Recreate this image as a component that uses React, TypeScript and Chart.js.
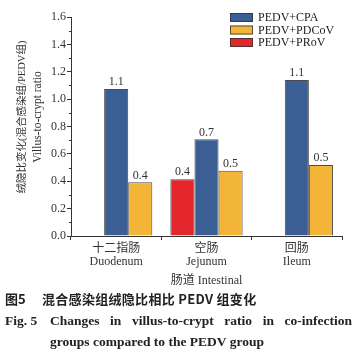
import React, { useEffect, useRef } from "react";
import { Chart, registerables } from "chart.js";

Chart.register(...registerables);

const categories: string[][] = [
  ["十二指肠", "Duodenum"],
  ["空肠", "Jejunum"],
  ["回肠", "Ileum"],
];
const seriesNames = ["PEDV+PRoV", "PEDV+CPA", "PEDV+PDCoV"];
const prov: (number | null)[] = [null, 0.414, null];
const cpa: number[] = [1.074, 0.706, 1.14];
const pdcov: number[] = [0.392, 0.477, 0.519];
const legendOrder = [1, 2, 0];
const yTicks = [0, 0.2, 0.4, 0.6, 0.8, 1.0, 1.2, 1.4, 1.6];
const yTitleZh = "绒隐比变化(混合感染组/PEDV组)";
const yTitleEn = "Villus-to-crypt ratio";
const xTitle = "肠道 Intestinal";

const SERIF = "'Liberation Serif', 'Noto Sans CJK SC', serif";
const COLORS = ["#e3262b", "#3b5f95", "#f2b537"];

const overlayPlugin = {
  id: "overlay",
  afterDraw(chart: any) {
    const ctx = chart.ctx;
    const area = chart.chartArea;
    const ys = chart.scales.y;
    ctx.save();
    // minor ticks
    ctx.strokeStyle = "#333";
    ctx.lineWidth = 1;
    for (let i = 0; i < yTicks.length - 1; i++) {
      const v = (yTicks[i] + yTicks[i + 1]) / 2;
      const y = Math.round(ys.getPixelForValue(v)) + 0.5;
      ctx.beginPath();
      ctx.moveTo(area.left - 2, y);
      ctx.lineTo(area.left, y);
      ctx.stroke();
    }
    // value labels
    ctx.fillStyle = "#333";
    ctx.font = `12px ${SERIF}`;
    ctx.textAlign = "center";
    ctx.textBaseline = "bottom";
    chart.data.datasets.forEach((ds: any, di: number) => {
      const meta = chart.getDatasetMeta(di);
      meta.data.forEach((el: any, i: number) => {
        const v = ds.data[i];
        if (v === null || v === undefined) return;
        ctx.fillText(v.toFixed(1), el.x, el.y - 1);
      });
    });
    // y title
    ctx.textAlign = "center";
    ctx.textBaseline = "middle";
    ctx.translate(22, 117);
    ctx.rotate(-Math.PI / 2);
    ctx.font = `10.5px ${SERIF}`;
    ctx.fillText(yTitleZh, 0, 0);
    ctx.setTransform(1, 0, 0, 1, 0, 0);
    ctx.translate(38, 117);
    ctx.rotate(-Math.PI / 2);
    ctx.font = `11.5px ${SERIF}`;
    ctx.fillText(yTitleEn, 0, 0);
    ctx.setTransform(1, 0, 0, 1, 0, 0);
    // legend
    ctx.font = `12px ${SERIF}`;
    ctx.textAlign = "left";
    ctx.textBaseline = "middle";
    legendOrder.forEach((di, k) => {
      const ds = chart.data.datasets[di];
      const top = 13 + k * 12.5;
      ctx.fillStyle = ds.backgroundColor;
      ctx.fillRect(230, top, 23, 9);
      ctx.strokeStyle = "rgba(50,50,50,0.8)";
      ctx.strokeRect(230.5, top + 0.5, 22, 8);
      ctx.fillStyle = "#222";
      ctx.fillText(ds.label, 258, top + 5);
    });
    ctx.restore();
  },
};

function ChartView() {
  const ref = useRef<HTMLCanvasElement | null>(null);
  useEffect(() => {
    if (!ref.current) return;
    const datasets = [prov, cpa, pdcov].map((d, i) => ({
      label: seriesNames[i],
      data: d,
      backgroundColor: COLORS[i],
      borderColor: "rgba(45,45,45,0.85)",
      borderWidth: 1,
      categoryPercentage: 0.8,
      barPercentage: 1.0,
      skipNull: false,
    }));
    const chart = new Chart(ref.current, {
      type: "bar",
      data: { labels: categories, datasets },
      plugins: [overlayPlugin],
      options: {
        responsive: false,
        animation: false,
        devicePixelRatio: 1,
        layout: { padding: { left: 0, right: 15, top: 17, bottom: 0 } },
        plugins: { legend: { display: false }, tooltip: { enabled: false } },
        scales: {
          x: {
            type: "category",
            offset: true,
            afterFit: (s: any) => {
              s.height = 54;
            },
            grid: {
              drawOnChartArea: false,
              drawTicks: true,
              tickLength: 4,
              color: "#333",
            },
            border: { display: true, color: "#333", width: 1 },
            ticks: {
              color: "#333",
              padding: 2,
              maxRotation: 0,
              font: { family: SERIF, size: 12, lineHeight: 1.1 },
            },
            title: {
              display: true,
              text: xTitle,
              color: "#333",
              padding: { top: 0, bottom: 3 },
              font: { family: SERIF, size: 12, lineHeight: 1.1 },
            },
          },
          y: {
            min: 0,
            max: 1.6,
            afterFit: (s: any) => {
              s.width = 71;
            },
            afterBuildTicks: (s: any) => {
              s.ticks = yTicks.map((v) => ({ value: v }));
            },
            grid: {
              drawOnChartArea: false,
              drawTicks: true,
              tickLength: 4,
              color: "#333",
            },
            border: { display: true, color: "#333", width: 1 },
            ticks: {
              color: "#333",
              padding: 1,
              font: { family: SERIF, size: 12 },
              callback: (v: any) => Number(v).toFixed(1),
            },
          },
        },
      } as any,
    });
    return () => chart.destroy();
  }, []);
  return <canvas ref={ref} width={357} height={290} style={{ display: "block" }} />;
}

export default function App() {
  const bold = "'Liberation Serif', 'Noto Sans CJK SC', serif";
  return (
    <div
      style={{
        position: "absolute",
        left: 0,
        top: 0,
        width: 357,
        height: 355,
        background: "#fff",
        overflow: "hidden",
      }}
    >
      <ChartView />
      <div
        style={{
          position: "absolute",
          left: 5,
          top: 291,
          height: 16,
          lineHeight: "16px",
          fontFamily: "'Noto Sans CJK SC', sans-serif",
          fontWeight: 700,
          fontSize: 13,
          color: "#222",
          whiteSpace: "nowrap",
        }}
      >
        图5
      </div>
      <div
        style={{
          position: "absolute",
          left: 42,
          top: 291,
          height: 16,
          lineHeight: "16px",
          fontFamily: "'Noto Sans CJK SC', sans-serif",
          fontWeight: 700,
          fontSize: 13,
          letterSpacing: 0.3,
          color: "#222",
          whiteSpace: "nowrap",
        }}
      >
        混合感染组绒隐比相比 PEDV 组变化
      </div>
      <div
        style={{
          position: "absolute",
          left: 5,
          top: 313,
          lineHeight: "16px",
          fontFamily: bold,
          fontWeight: 700,
          fontSize: 13.5,
          color: "#222",
          whiteSpace: "nowrap",
        }}
      >
        Fig. 5
      </div>
      <div
        style={{
          position: "absolute",
          left: 50,
          top: 313,
          width: 302,
          height: 16,
          lineHeight: "16px",
          fontFamily: bold,
          fontWeight: 700,
          fontSize: 13.5,
          color: "#222",
          textAlign: "justify",
          textAlignLast: "justify" as any,
          whiteSpace: "normal",
        }}
      >
        Changes in villus-to-crypt ratio in co-infection
      </div>
      <div
        style={{
          position: "absolute",
          left: 50,
          top: 334,
          lineHeight: "16px",
          fontFamily: bold,
          fontWeight: 700,
          fontSize: 13.5,
          color: "#222",
          whiteSpace: "nowrap",
        }}
      >
        groups compared to the PEDV group
      </div>
    </div>
  );
}
